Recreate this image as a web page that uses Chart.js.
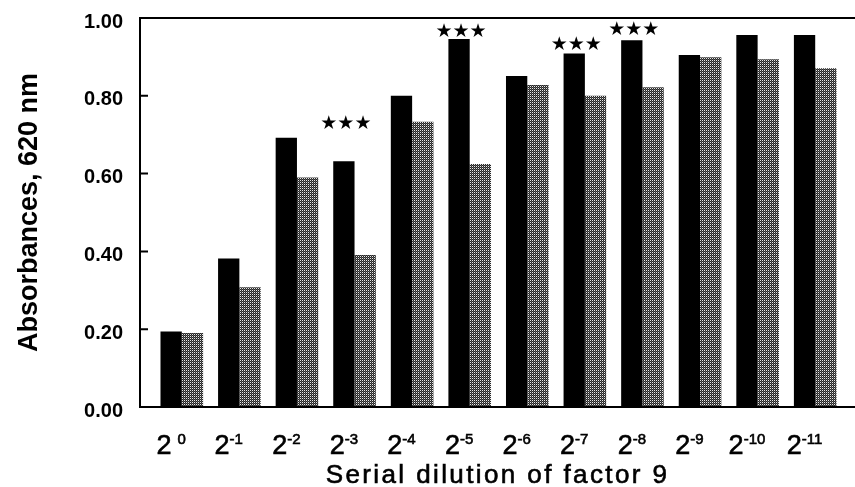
<!DOCTYPE html>
<html>
<head>
<meta charset="utf-8">
<script src="https://cdn.jsdelivr.net/npm/chart.js@4.4.1/dist/chart.umd.min.js"></script>
<style>
  body { margin: 0; background: #fff; }
  canvas { display: block; }
</style>
</head>
<body>
<canvas id="chart" width="855" height="487"></canvas>
<script>
// dilution exponents (2^x) along the x axis
const exponents = ['0', '-1', '-2', '-3', '-4', '-5', '-6', '-7', '-8', '-9', '-10', '-11'];
const categories = exponents.map(e => '2^' + e);

// absorbance at 620 nm, black bars then stippled bars
const blackValues = [0.194, 0.382, 0.692, 0.632, 0.800, 0.946, 0.851, 0.909, 0.943, 0.905, 0.956, 0.956];
const greyValues  = [0.190, 0.308, 0.590, 0.391, 0.733, 0.625, 0.828, 0.800, 0.822, 0.899, 0.894, 0.871];

// significance marks (***) : which dilution, and the level they sit at
const starCategories = ['2^-3', '2^-5', '2^-7', '2^-8'];
const starLevels = [0.728, 0.965, 0.930, 0.970];

const yTickValues = [0, 0.2, 0.4, 0.6, 0.8, 1.0];

const FONT = "'Liberation Sans', Arial, Helvetica, sans-serif";

// stipple fill like the printed grey bars
function makeStipple() {
    const c = document.createElement('canvas');
    c.width = 4; c.height = 4;
    const g = c.getContext('2d');
    for (let x = 0; x < 4; x++) {
        for (let y = 0; y < 4; y++) {
            let col = '#262626';
            if ((x + y) % 2 === 0) col = (x % 2 === 0) ? '#e8e8e8' : '#5a5a5a';
            g.fillStyle = col;
            g.fillRect(x, y, 1, 1);
        }
    }
    return g.createPattern(c, 'repeat');
}

const framePlugin = {
    id: 'frame',
    afterDatasetsDraw(chart) {
        const { ctx, chartArea, scales } = chart;
        const axX = chartArea.left - 13;
        const top = scales.y.getPixelForValue(1);
        const bottom = scales.y.getPixelForValue(0);
        ctx.save();
        ctx.strokeStyle = '#000';
        ctx.lineWidth = 2;
        ctx.beginPath();
        ctx.moveTo(chart.width, top);
        ctx.lineTo(axX, top);
        ctx.lineTo(axX, bottom);
        ctx.lineTo(chart.width, bottom);
        yTickValues.forEach(v => {
            if (v > 0 && v < 1) {
                const y = scales.y.getPixelForValue(v);
                ctx.moveTo(axX, y);
                ctx.lineTo(axX + 8, y);
            }
        });
        ctx.stroke();
        ctx.restore();
    },
    afterDraw(chart) {
        const { ctx, chartArea, scales } = chart;
        const blackBars = chart.getDatasetMeta(0).data;
        const axX = chartArea.left - 13;
        ctx.save();
        ctx.fillStyle = '#000';

        // x tick labels with superscript exponents
        exponents.forEach((e, i) => {
            const cx = blackBars[i].x;
            const baseY = chartArea.bottom + 47;
            ctx.font = `27px ${FONT}`;
            const wBase = ctx.measureText('2').width;
            ctx.font = `15px ${FONT}`;
            const wExp = ctx.measureText(e).width;
            const gap = e === '0' ? 6 : 0;
            const x0 = cx - (wBase + gap + wExp) / 2;
            ctx.textAlign = 'left';
            ctx.textBaseline = 'alphabetic';
            ctx.font = `27px ${FONT}`;
            ctx.fillText('2', x0, baseY);
            ctx.lineWidth = 0.6;
            ctx.strokeText('2', x0, baseY);
            ctx.font = `15px ${FONT}`;
            ctx.fillText(e, x0 + wBase + gap, baseY - 10);
            ctx.strokeText(e, x0 + wBase + gap, baseY - 10);
        });

        // x axis title
        ctx.font = `26px ${FONT}`;
        ctx.letterSpacing = '2.4px';
        ctx.textAlign = 'center';
        ctx.fillText('Serial dilution of factor 9', (axX + chart.width) / 2, chartArea.bottom + 76);
        ctx.strokeText('Serial dilution of factor 9', (axX + chart.width) / 2, chartArea.bottom + 76);

        // y axis title
        ctx.letterSpacing = '0px';
        ctx.save();
        ctx.translate(37, (chartArea.top + chartArea.bottom) / 2);
        ctx.rotate(-Math.PI / 2);
        ctx.font = `bold 27px ${FONT}`;
        ctx.fillText('Absorbances, 620 nm', 0, 0);
        ctx.restore();

        // *** marks
        ctx.font = "19px 'DejaVu Sans', sans-serif";
        ctx.letterSpacing = '0px';
        ctx.textBaseline = 'middle';
        starCategories.forEach((cat, k) => {
            const i = categories.indexOf(cat);
            const x = blackBars[i].x + 2;
            const y = scales.y.getPixelForValue(starLevels[k]);
            ctx.fillText('\u2605\u2605\u2605', x, y);
        });
        ctx.restore();
    }
};

const stipple = makeStipple();

new Chart(document.getElementById('chart'), {
    type: 'bar',
    data: {
        labels: categories,
        datasets: [
            {
                label: 'Black bars',
                data: blackValues,
                backgroundColor: '#000',
                borderWidth: 0,
                categoryPercentage: 0.74,
                barPercentage: 1.0
            },
            {
                label: 'Stippled bars',
                data: greyValues,
                backgroundColor: stipple,
                borderWidth: 0,
                categoryPercentage: 0.74,
                barPercentage: 1.0
            }
        ]
    },
    options: {
        responsive: false,
        animation: false,
        devicePixelRatio: 1,
        layout: { padding: { top: 18, right: 11, bottom: 80, left: 0 } },
        plugins: {
            legend: { display: false },
            tooltip: { enabled: false }
        },
        scales: {
            x: {
                display: false
            },
            y: {
                min: 0,
                max: 1,
                afterFit: scale => {
                    scale.width = 153;
                    scale.paddingTop = 0;
                    scale.paddingBottom = 0;
                },
                afterBuildTicks: scale => {
                    scale.ticks = yTickValues.map(v => ({ value: v }));
                },
                grid: { display: false, drawTicks: false },
                border: { display: false },
                ticks: {
                    padding: 30,
                    labelOffset: 4,
                    color: '#000',
                    font: { family: FONT, size: 20, weight: 'bold' },
                    callback: v => v.toFixed(2)
                }
            }
        }
    },
    plugins: [framePlugin]
});
</script>
</body>
</html>
